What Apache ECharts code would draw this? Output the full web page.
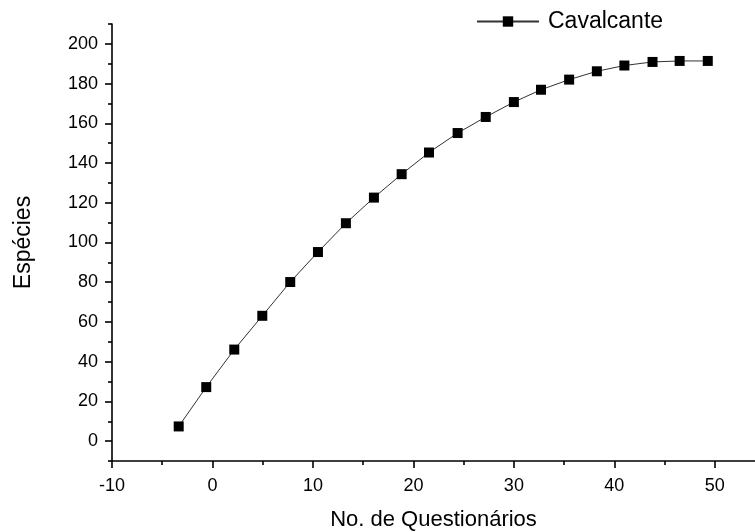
<!DOCTYPE html>
<html>
<head>
<meta charset="utf-8">
<script src="https://cdn.jsdelivr.net/npm/echarts@6/dist/echarts.min.js"></script>
<style>
  html, body { margin: 0; padding: 0; background: #fff; }
  #chart { width: 755px; height: 532px; }
</style>
</head>
<body>
<div id="chart"></div>
<script>
// Species accumulation curve: number of questionnaires vs. species recorded
const seriesName = 'Cavalcante';
const questionnaires = [-3.36, -0.62, 2.17, 4.96, 7.74, 10.5, 13.28, 16.07, 18.83, 21.55,
                        24.4, 27.2, 30.0, 32.7, 35.5, 38.26, 41.0, 43.8, 46.5, 49.3];
const species = [7.4, 27.2, 46.1, 63.1, 80.1, 95.2, 109.7, 122.6, 134.4, 145.3,
                 155.1, 163.2, 170.7, 176.9, 182.0, 186.2, 189.1, 190.9, 191.4, 191.4];

const xMajorTicks = [-10, 0, 10, 20, 30, 40, 50];
const xMinorTicks = [-5, 5, 15, 25, 35, 45];
const yMajorTicks = [0, 20, 40, 60, 80, 100, 120, 140, 160, 180, 200];
const yMinorTicks = [-10, 10, 30, 50, 70, 90, 110, 130, 150, 170, 190, 210];

const FONT = '"Liberation Sans", Arial, sans-serif';
const X_RANGE = [-10, 54];
const Y_RANGE = [-10, 210];

const chart = echarts.init(document.getElementById('chart'));

const axisLineStyle = { color: '#000', width: 1.6 };

chart.setOption({
  animation: false,
  backgroundColor: '#fff',
  grid: { left: 112, right: 0, top: 24, bottom: 71, containLabel: false, outerBoundsMode: 'none' },
  legend: {
    show: true,
    left: 471,
    top: 5,
    itemWidth: 62,
    itemHeight: 13,
    textStyle: { fontFamily: FONT, fontSize: 23, color: '#000', padding: [0, 0, 0, 4] },
    data: [seriesName]
  },
  xAxis: [
    {
      type: 'value',
      min: X_RANGE[0],
      max: X_RANGE[1],
      name: 'No. de Questionários',
      nameLocation: 'middle',
      nameGap: 48,
      nameTextStyle: { fontFamily: FONT, fontSize: 22, color: '#000' },
      axisLine: { show: true, onZero: false, lineStyle: axisLineStyle },
      axisTick: { show: true, inside: false, length: 7, customValues: xMajorTicks,
                  lineStyle: { color: '#000', width: 1.6 } },
      axisLabel: { show: true, customValues: xMajorTicks, margin: 16,
                   fontFamily: FONT, fontSize: 18, color: '#000' },
      splitLine: { show: false }
    },
    {
      type: 'value',
      position: 'bottom',
      min: X_RANGE[0],
      max: X_RANGE[1],
      axisLine: { show: false, onZero: false },
      axisTick: { show: true, inside: false, length: 4, customValues: xMinorTicks,
                  lineStyle: { color: '#000', width: 1.6 } },
      axisLabel: { show: false },
      splitLine: { show: false }
    }
  ],
  yAxis: [
    {
      type: 'value',
      min: Y_RANGE[0],
      max: Y_RANGE[1],
      name: 'Espécies',
      nameLocation: 'middle',
      nameGap: 77,
      nameTextStyle: { fontFamily: FONT, fontSize: 23, color: '#000' },
      axisLine: { show: true, onZero: false, lineStyle: axisLineStyle },
      axisTick: { show: true, inside: false, length: 7, customValues: yMajorTicks,
                  lineStyle: { color: '#000', width: 1.6 } },
      axisLabel: { show: true, customValues: yMajorTicks, margin: 14,
                   fontFamily: FONT, fontSize: 18, color: '#000' },
      splitLine: { show: false }
    },
    {
      type: 'value',
      position: 'left',
      min: Y_RANGE[0],
      max: Y_RANGE[1],
      axisLine: { show: false, onZero: false },
      axisTick: { show: true, inside: false, length: 4, customValues: yMinorTicks,
                  lineStyle: { color: '#000', width: 1.6 } },
      axisLabel: { show: false },
      splitLine: { show: false }
    }
  ],
  series: [
    {
      name: seriesName,
      type: 'line',
      xAxisIndex: 0,
      yAxisIndex: 0,
      data: questionnaires.map((q, i) => [q, species[i]]),
      symbol: 'rect',
      symbolSize: 10,
      itemStyle: { color: '#000' },
      lineStyle: { color: '#333', width: 1 },
      emphasis: { disabled: true }
    }
  ]
});
</script>
</body>
</html>
